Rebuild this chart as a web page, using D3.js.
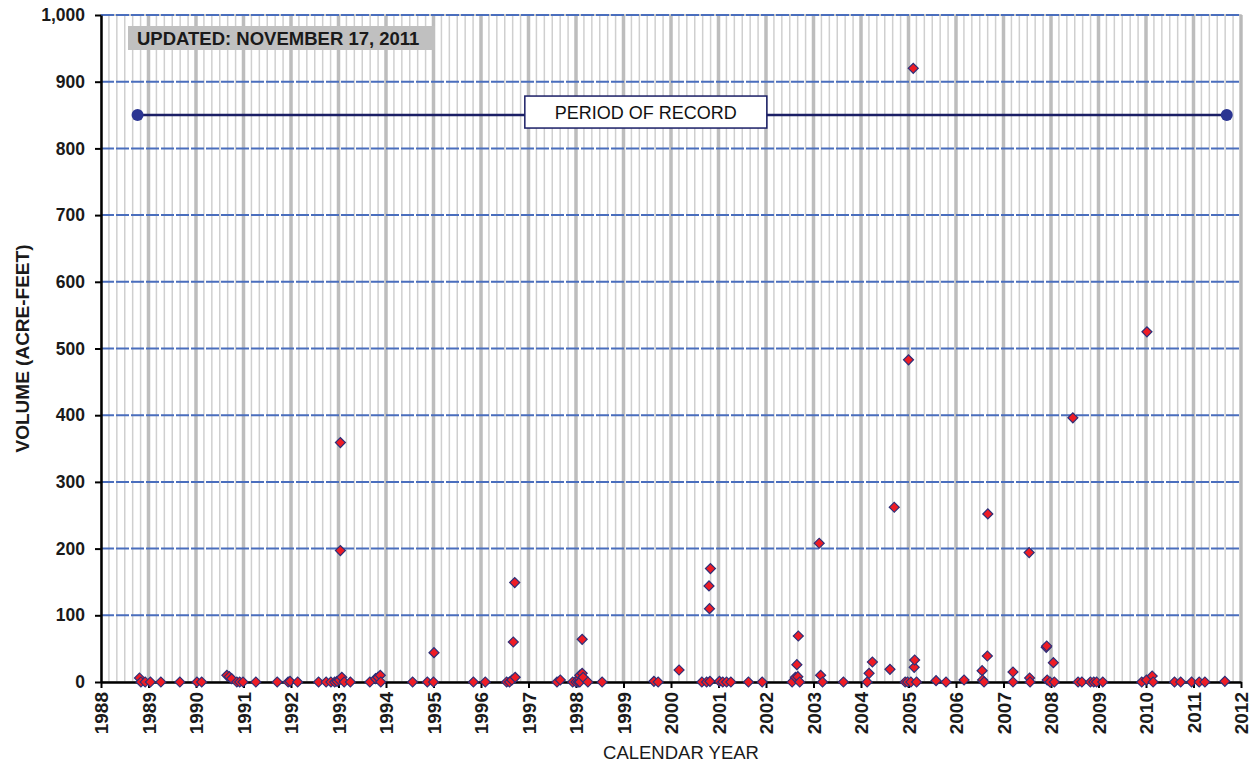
<!DOCTYPE html>
<html>
<head>
<meta charset="utf-8">
<script src="https://cdn.jsdelivr.net/npm/d3@7"></script>
<style>
  html, body { margin: 0; padding: 0; background: #ffffff; }
  svg { display: block; font-family: "Liberation Sans", Arial, sans-serif; }
</style>
</head>
<body>
<svg id="chart" width="1257" height="769"></svg>
<script>
// Sample dates (decimal calendar year) and measured volumes (acre-feet)
const sampleYear = [
  1988.81, 1988.84, 1988.93, 1989.04, 1989.26, 1989.66, 1990.02, 1990.12,
  1990.65, 1990.70, 1990.75, 1990.86, 1990.92, 1990.99, 1991.26, 1991.71,
  1991.94, 1991.98, 1992.14, 1992.58, 1992.74, 1992.84, 1992.92, 1992.97,
  1993.02, 1993.04, 1993.04, 1993.07, 1993.12, 1993.25,
  1993.66, 1993.78, 1993.83, 1993.88, 1993.89,
  1994.56, 1994.87, 1995.00, 1995.01, 1995.84,
  1996.09, 1996.54, 1996.60, 1996.65, 1996.68, 1996.71, 1996.72,
  1997.60, 1997.67, 1997.93, 1998.00, 1998.05, 1998.07, 1998.08, 1998.08, 1998.13, 1998.13, 1998.15, 1998.25, 1998.55,
  1999.64, 1999.73, 2000.17,
  2000.65, 2000.75, 2000.80, 2000.81, 2000.82, 2000.83,
  2001.02, 2001.09, 2001.17, 2001.26, 2001.63, 2001.92,
  2002.55, 2002.62, 2002.65, 2002.67, 2002.68, 2002.71,
  2003.12, 2003.15, 2003.19, 2003.63,
  2004.13, 2004.17, 2004.24, 2004.61, 2004.70,
  2004.93, 2004.98, 2005.00, 2005.05, 2005.10, 2005.12, 2005.13, 2005.17,
  2005.58, 2005.79, 2006.17,
  2006.55, 2006.56, 2006.59, 2006.66, 2006.67,
  2007.20, 2007.20, 2007.54, 2007.55, 2007.56,
  2007.90, 2007.91, 2007.92, 2007.98, 2008.05, 2008.07,
  2008.46, 2008.57, 2008.65, 2008.83, 2008.90, 2008.96, 2009.09,
  2009.91, 2010.01, 2010.02, 2010.13, 2010.15,
  2010.60, 2010.73, 2010.96, 2011.12, 2011.24, 2011.66
];
const volumeAcreFeet = [
  6, 0, 0, 0, 0, 0, 0, 0,
  10, 8, 5, 0, 0, 0, 0, 0,
  0, 1, 0, 0, 0, 0, 0, 1,
  3, 359, 197, 7, 0, 0,
  0, 5, 7, 10, 0,
  0, 0, 0, 44, 0,
  0, 0, 0, 3, 60, 149, 7,
  0, 3, 0, 0, 0, 6, 10, 0, 13, 64, 7, 0, 0,
  1, 0, 18,
  0, 0, 144, 110, 1, 170,
  1, 0, 0, 0, 0, 0,
  0, 7, 26, 8, 69, 0,
  208, 10, 0, 0,
  0, 13, 30, 19, 262,
  0, 0, 483, 0, 920, 22, 33, 0,
  2, 0, 3,
  17, 3, 0, 39, 252,
  15, 0, 194, 6, 0,
  52, 54, 3, 0, 29, 0,
  396, 0, 0, 0, 0, 0, 0,
  0, 3, 525, 9, 0,
  0, 0, 0, 0, 0, 1
];

// Axis ticks
const yearTicks = d3.range(1988, 2013);
const volumeTicks = d3.range(0, 1001, 100);

// Period of record
const recordStart = 1988.77;
const recordEnd = 2011.70;
const recordLevel = 850;
const recordLabel = "PERIOD OF RECORD";
const updatedLabel = "UPDATED: NOVEMBER 17, 2011";

const margin = { left: 101, top: 15, right: 16, bottom: 87 };
const W = 1257, H = 769;
const iw = W - margin.left - margin.right;   // 1140
const ih = H - margin.top - margin.bottom;   // 667

const svg = d3.select("#chart");
const g = svg.append("g").attr("transform", `translate(${margin.left},${margin.top})`);

const x = d3.scaleLinear().domain([1988, 2012]).range([0, iw]);
const y = d3.scaleLinear().domain([0, 1000]).range([ih, 0]);

// Bi-monthly light gridlines
const minorLines = d3.range(1988, 2012.001, 1 / 6).filter(v => Math.abs(v - Math.round(v)) > 1e-6);
g.append("g").selectAll("line").data(minorLines).join("line")
  .attr("x1", d => x(d)).attr("x2", d => x(d))
  .attr("y1", 0).attr("y2", ih)
  .attr("stroke", "#cfcfcf").attr("stroke-width", 1.5);

// Year gridlines
g.append("g").selectAll("line").data(yearTicks.slice(1)).join("line")
  .attr("x1", d => x(d)).attr("x2", d => x(d))
  .attr("y1", 0).attr("y2", ih)
  .attr("stroke", "#bdbdbd").attr("stroke-width", 3.5);

// Plot frame
g.append("rect").attr("x", 0).attr("y", 0).attr("width", iw).attr("height", ih)
  .attr("fill", "none").attr("stroke", "#b8b8b8").attr("stroke-width", 1.5);

// Horizontal dashed gridlines
g.append("g").selectAll("line").data(volumeTicks.slice(1)).join("line")
  .attr("x1", 0).attr("x2", iw)
  .attr("y1", d => y(d)).attr("y2", d => y(d))
  .attr("stroke", "#4a6ebd").attr("stroke-width", 2)
  .attr("stroke-dasharray", "13,2");

// Updated stamp
const upd = g.append("g").attr("transform", `translate(27,11)`);
upd.append("rect").attr("x", 0).attr("y", 0).attr("width", 307).attr("height", 24).attr("fill", "#c0c0c0");
upd.append("text").attr("x", 9).attr("y", 19)
  .attr("font-size", 18.5).attr("font-weight", "bold").attr("fill", "#1a1a1a")
  .text(updatedLabel);

// Period of record line
g.append("line")
  .attr("x1", x(recordStart)).attr("x2", x(recordEnd))
  .attr("y1", y(recordLevel)).attr("y2", y(recordLevel))
  .attr("stroke", "#1b1f66").attr("stroke-width", 2.5);
g.append("g").selectAll("circle").data([recordStart, recordEnd]).join("circle")
  .attr("cx", d => x(d)).attr("cy", y(recordLevel)).attr("r", 6)
  .attr("fill", "#2b3592");

const labelCx = x(1999.47);
const lab = g.append("g").attr("transform", `translate(${labelCx},${y(recordLevel) - 3})`);
lab.append("rect").attr("x", -121).attr("y", -16).attr("width", 242).attr("height", 32)
  .attr("fill", "#ffffff").attr("stroke", "#1b1f66").attr("stroke-width", 1.5);
lab.append("text").attr("x", 0).attr("y", 6.5).attr("text-anchor", "middle")
  .attr("font-size", 18).attr("fill", "#111111")
  .text(recordLabel);

// Axes
const yAxis = g.append("g")
  .call(d3.axisLeft(y).tickValues(volumeTicks).tickFormat(d3.format(",")).tickSize(6).tickSizeOuter(0));
yAxis.select(".domain").attr("stroke", "#000").attr("stroke-width", 2.5);
yAxis.selectAll(".tick line").attr("stroke", "#000").attr("stroke-width", 2);
yAxis.selectAll(".tick text").attr("x", -16).attr("font-size", 17.5).attr("font-weight", "bold")
  .attr("fill", "#1a1a1a").attr("font-family", "Liberation Sans, Arial, sans-serif");

const xAxis = g.append("g").attr("transform", `translate(0,${ih})`)
  .call(d3.axisBottom(x).tickValues(yearTicks).tickFormat(d3.format("d")).tickSize(6).tickSizeOuter(0));
xAxis.select(".domain").attr("stroke", "#000").attr("stroke-width", 2.5);
xAxis.selectAll(".tick line").attr("stroke", "#000").attr("stroke-width", 2);
xAxis.selectAll(".tick text")
  .attr("transform", "rotate(-90)")
  .attr("text-anchor", "end")
  .attr("x", -10).attr("y", 0).attr("dy", "0.36em")
  .attr("font-size", 19).attr("font-weight", "bold")
  .attr("fill", "#1a1a1a").attr("font-family", "Liberation Sans, Arial, sans-serif");

// Axis titles
svg.append("text")
  .attr("transform", `translate(29,${margin.top + ih / 2}) rotate(-90)`)
  .attr("text-anchor", "middle")
  .attr("font-size", 19).attr("font-weight", "bold").attr("fill", "#1a1a1a")
  .text("VOLUME (ACRE-FEET)");
svg.append("text")
  .attr("x", 681).attr("y", 759)
  .attr("text-anchor", "middle")
  .attr("font-size", 18.5).attr("fill", "#1a1a1a")
  .text("CALENDAR YEAR");

// Sample points as diamonds
const points = sampleYear.map((t, i) => ({ t, v: volumeAcreFeet[i] }));
const diamond = d3.symbol().type(d3.symbolSquare).size(50);
g.append("g").selectAll("path").data(points).join("path")
  .attr("d", diamond)
  .attr("transform", d => `translate(${x(d.t)},${y(d.v)}) rotate(45)`)
  .attr("fill", "#ee1c25")
  .attr("stroke", "#2e2f78")
  .attr("stroke-width", 1.2);
</script>
</body>
</html>
